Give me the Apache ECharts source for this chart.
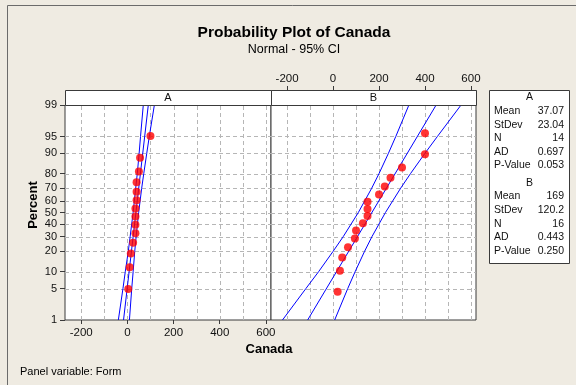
<!DOCTYPE html>
<html><head><meta charset="utf-8">
<script src="https://cdn.jsdelivr.net/npm/echarts@6/dist/echarts.min.js"></script>
<style>html,body{margin:0;padding:0;background:#efebe2}#c{width:576px;height:385px}</style>
</head><body><div id="c"></div>
<script>
// ---------- data ----------
const panelNames = ['A', 'B'];
const percentTicks = [1, 5, 10, 20, 30, 40, 50, 60, 70, 80, 90, 95, 99];
const xLabelTicks = [-200, 0, 200, 400, 600];
const xGridTicks = [-200, -100, 0, 100, 200, 300, 400, 500, 600];

const canadaA = [4, 10, 15, 25, 35, 35, 35, 35, 40, 40, 40, 50, 55, 100];
const percentA = [4.9, 11.8, 18.8, 25.7, 32.6, 39.6, 46.5, 53.5, 60.4, 67.4, 74.3, 81.3, 88.2, 95.1];
const canadaB = [20, 30, 40, 65, 95, 100, 130, 150, 150, 150, 200, 225, 250, 300, 400, 400];
const percentB = [4.3, 10.4, 16.5, 22.6, 28.7, 34.8, 40.9, 47.0, 53.0, 59.1, 65.2, 71.3, 77.4, 83.5, 89.6, 95.7];

const fitPercent = [1, 99];
const fitA = [-16.5, 90.7];
const fitB = [-110.6, 448.6];

const ciPercent = [1, 5, 10, 20, 30, 50, 70, 80, 90, 95, 99];
const lowerA = [-39, -19, -9, 4, 12, 25, 36, 43, 51, 57, 69];
const upperA = [9, 19, 25, 32, 38, 49, 62, 71, 84, 95, 117];
const lowerB = [-220, -118, -63, 0, 44, 110, 168, 200, 241, 273, 330];
const upperB = [7, 64, 96, 137, 169, 228, 294, 337, 400, 454, 557];

const statNames = ['Mean', 'StDev', 'N', 'AD', 'P-Value'];
const statsA = ['37.07', '23.04', '14', '0.697', '0.053'];
const statsB = ['169', '120.2', '16', '0.443', '0.250'];

// ---------- probability (normal) scale ----------
function probit(p) {
  const a = [-3.969683028665376e+01, 2.209460984245205e+02, -2.759285104469687e+02, 1.383577518672690e+02, -3.066479806614716e+01, 2.506628277459239e+00];
  const b = [-5.447609879822406e+01, 1.615858368580409e+02, -1.556989798598866e+02, 6.680131188771972e+01, -1.328068155288572e+01];
  const c = [-7.784894002430293e-03, -3.223964580411365e-01, -2.400758277161838e+00, -2.549732539343734e+00, 4.374664141464968e+00, 2.938163982698783e+00];
  const d = [7.784695709041462e-03, 3.224671290700398e-01, 2.445134137142996e+00, 3.754408661907416e+00];
  const pl = 0.02425;
  let q, r;
  if (p < pl) {
    q = Math.sqrt(-2 * Math.log(p));
    return (((((c[0]*q+c[1])*q+c[2])*q+c[3])*q+c[4])*q+c[5]) / ((((d[0]*q+d[1])*q+d[2])*q+d[3])*q+1);
  } else if (p <= 1 - pl) {
    q = p - 0.5; r = q * q;
    return (((((a[0]*r+a[1])*r+a[2])*r+a[3])*r+a[4])*r+a[5])*q / (((((b[0]*r+b[1])*r+b[2])*r+b[3])*r+b[4])*r+1);
  } else {
    q = Math.sqrt(-2 * Math.log(1 - p));
    return -(((((c[0]*q+c[1])*q+c[2])*q+c[3])*q+c[4])*q+c[5]) / ((((d[0]*q+d[1])*q+d[2])*q+d[3])*q+1);
  }
}
const zOf = pct => probit(pct / 100);
const zTicks = percentTicks.map(zOf);
const zMin = zOf(1), zMax = zOf(99);
const pairs = (xs, ps) => xs.map((x, i) => [x, zOf(ps[i])]);

// ---------- layout ----------
const FONT = '"Liberation Sans", Arial, sans-serif';
const X_MIN = -270, X_MAX = 622;
const panelBox = [{ left: 65, width: 206 }, { left: 271, width: 205 }];
const TOP = 105, HEIGHT = 215, HEAD = 15;

const grids = panelBox.map(p => ({
  left: p.left, top: TOP, width: p.width, height: HEIGHT,
  show: true, backgroundColor: '#ffffff', borderColor: '#3a3a3a', borderWidth: 1, containLabel: false
}));

const xAxes = [];
const yAxes = [];
panelBox.forEach((p, gi) => {
  const isTop = gi === 1;
  xAxes.push({
    type: 'value', gridIndex: gi, min: X_MIN, max: X_MAX,
    position: isTop ? 'top' : 'bottom', offset: isTop ? HEAD : 0,
    axisLine: { show: isTop, onZero: false, lineStyle: { color: '#3a3a3a' } },
    axisTick: { show: true, inside: false, length: 4, customValues: xLabelTicks, lineStyle: { color: '#3a3a3a' } },
    axisLabel: { show: true, customValues: xLabelTicks, margin: isTop ? 5 : 7, color: '#111', fontSize: 11.5, fontFamily: FONT },
    splitLine: { show: false }
  });
  yAxes.push({
    type: 'value', gridIndex: gi, min: zMin, max: zMax,
    axisLine: { show: false, onZero: false },
    axisTick: { show: gi === 0, inside: false, length: 5, customValues: zTicks, lineStyle: { color: '#3a3a3a' } },
    axisLabel: {
      show: gi === 0, customValues: zTicks, margin: 8, color: '#111', fontSize: 11, fontFamily: FONT,
      formatter: v => {
        let best = 0;
        zTicks.forEach((z, i) => { if (Math.abs(z - v) < Math.abs(zTicks[best] - v)) best = i; });
        return String(percentTicks[best]);
      }
    },
    splitLine: { show: false }
  });
});

const series = [];
// dashed reference grid, positioned through the axes from the tick arrays
const snap = v => Math.round(v) + 0.5;
const GRID_COLOR = '#b6b6b6';
panelBox.forEach((p, gi) => {
  series.push({
    type: 'custom', xAxisIndex: gi, yAxisIndex: gi, silent: true, z: 2,
    data: xGridTicks.map(v => [v, 0]), encode: { x: 0, y: 1 },
    renderItem: (params, api) => {
      const v = api.value(0);
      const a = api.coord([v, zMin]), b = api.coord([v, zMax]);
      return { type: 'line', shape: { x1: snap(a[0]), y1: a[1], x2: snap(a[0]), y2: b[1] },
        style: { stroke: GRID_COLOR, lineWidth: 1, lineDash: [4, 3] } };
    }
  });
  series.push({
    type: 'custom', xAxisIndex: gi, yAxisIndex: gi, silent: true, z: 2,
    data: zTicks.slice(1, -1).map(z => [0, z]), encode: { x: 0, y: 1 },
    renderItem: (params, api) => {
      const z = api.value(1);
      const a = api.coord([X_MIN, z]), b = api.coord([X_MAX, z]);
      return { type: 'line', shape: { x1: a[0], y1: snap(a[1]), x2: b[0], y2: snap(a[1]) },
        style: { stroke: GRID_COLOR, lineWidth: 1, lineDash: [4, 3] } };
    }
  });
});

const blueLine = { color: '#0000ff', width: 1 };
function lineSeries(gi, xs, ps) {
  return {
    type: 'line', xAxisIndex: gi, yAxisIndex: gi, data: pairs(xs, ps),
    symbol: 'none', lineStyle: blueLine, silent: true, z: 3, clip: true
  };
}
[[canadaA, percentA, fitA, lowerA, upperA], [canadaB, percentB, fitB, lowerB, upperB]].forEach((d, gi) => {
  series.push(lineSeries(gi, d[3], ciPercent));
  series.push(lineSeries(gi, d[2], fitPercent));
  series.push(lineSeries(gi, d[4], ciPercent));
  series.push({
    type: 'scatter', xAxisIndex: gi, yAxisIndex: gi, data: pairs(d[0], d[1]),
    symbol: 'circle', symbolSize: 8, itemStyle: { color: '#ff0000' }, z: 4
  });
});

// ---------- graphics: title, strips, legend box, names ----------
const graphics = [];
graphics.push({ type: 'rect', shape: { x: 7.5, y: 5.5, width: 620, height: 420 },
  style: { fill: 'none', stroke: '#6b6b6b', lineWidth: 1 }, silent: true, z: 0 });
graphics.push({ type: 'text', x: 294, y: 33, style: { text: 'Probability Plot of Canada', fill: '#000',
  font: 'bold 15.5px ' + FONT, textAlign: 'center', textVerticalAlign: 'middle' } });
graphics.push({ type: 'text', x: 294, y: 50, style: { text: 'Normal - 95% CI', fill: '#000',
  font: '12.5px ' + FONT, textAlign: 'center', textVerticalAlign: 'middle' } });
panelBox.forEach((p, gi) => {
  graphics.push({ type: 'rect', shape: { x: p.left + 0.5, y: TOP - HEAD + 0.5, width: p.width, height: HEAD },
    style: { fill: '#ffffff', stroke: '#3a3a3a', lineWidth: 1 }, z: 10 });
  graphics.push({ type: 'text', x: p.left + p.width / 2, y: TOP - HEAD / 2 + 0.5, z: 11,
    style: { text: panelNames[gi], fill: '#111', font: '11px ' + FONT, textAlign: 'center', textVerticalAlign: 'middle' } });
});
graphics.push({ type: 'text', x: 33, y: 205, rotation: Math.PI / 2,
  style: { text: 'Percent', fill: '#000', font: 'bold 13px ' + FONT, textAlign: 'center', textVerticalAlign: 'middle' } });
graphics.push({ type: 'text', x: 269, y: 349.5,
  style: { text: 'Canada', fill: '#000', font: 'bold 13px ' + FONT, textAlign: 'center', textVerticalAlign: 'middle' } });
graphics.push({ type: 'text', x: 20, y: 372,
  style: { text: 'Panel variable: Form', fill: '#000', font: '11px ' + FONT, textAlign: 'left', textVerticalAlign: 'middle' } });

// legend / statistics box
const BOX = { x: 489.5, y: 90.5, w: 80, h: 173 };
graphics.push({ type: 'rect', shape: { x: BOX.x, y: BOX.y, width: BOX.w, height: BOX.h },
  style: { fill: '#ffffff', stroke: '#3a3a3a', lineWidth: 1 } });
const blocks = [[panelNames[0], statsA, 97.5], [panelNames[1], statsB, 183]];
const ROW = 13.6;
blocks.forEach(([name, vals, y0]) => {
  graphics.push({ type: 'text', x: BOX.x + BOX.w / 2, y: y0,
    style: { text: name, fill: '#111', font: '10.5px ' + FONT, textAlign: 'center', textVerticalAlign: 'middle' } });
  statNames.forEach((s, i) => {
    const y = y0 + ROW * (i + 1);
    graphics.push({ type: 'text', x: 494, y,
      style: { text: s, fill: '#111', font: '10.5px ' + FONT, textAlign: 'left', textVerticalAlign: 'middle' } });
    graphics.push({ type: 'text', x: 564, y,
      style: { text: vals[i], fill: '#111', font: '10.5px ' + FONT, textAlign: 'right', textVerticalAlign: 'middle' } });
  });
});

const chart = echarts.init(document.getElementById('c'), null, { renderer: 'canvas' });
chart.setOption({
  backgroundColor: '#efebe2',
  animation: false,
  grid: grids,
  xAxis: xAxes,
  yAxis: yAxes,
  series,
  graphic: graphics
});
</script></body></html>
